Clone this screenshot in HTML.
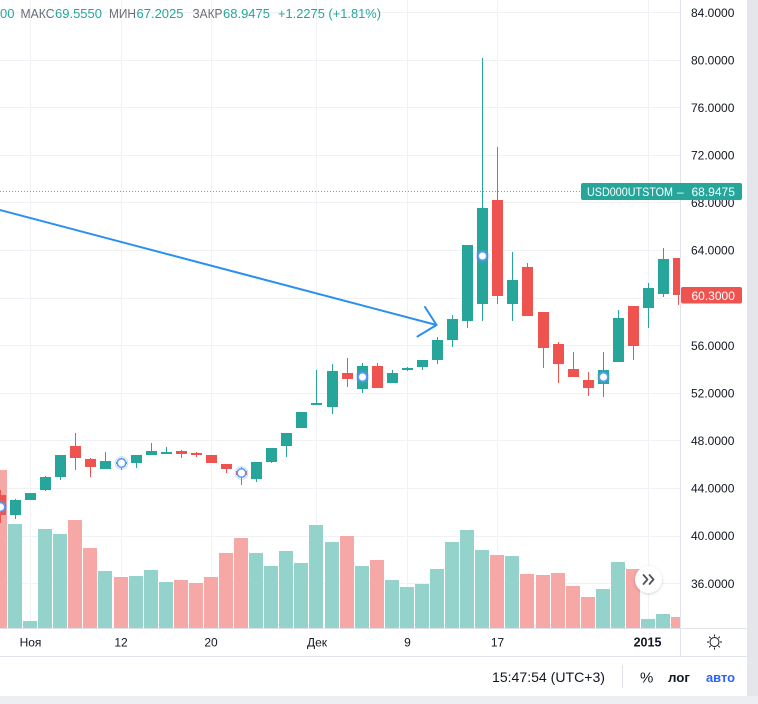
<!DOCTYPE html>
<html><head><meta charset="utf-8">
<style>
html,body{margin:0;padding:0;background:#eceef2;}
svg{display:block;}
text{font-family:"Liberation Sans",Arial,sans-serif;}
</style></head>
<body>
<svg width="758" height="704" viewBox="0 0 758 704" xmlns="http://www.w3.org/2000/svg">
<defs>
<clipPath id="pane"><rect x="0" y="0" width="680" height="628"/></clipPath>
<filter id="sh" x="-50%" y="-50%" width="200%" height="200%"><feDropShadow dx="0" dy="1" stdDeviation="1.5" flood-color="#000" flood-opacity="0.18"/></filter>
</defs>
<rect x="0" y="0" width="758" height="704" fill="#eceef2"/>
<rect x="0" y="0" width="747" height="696" fill="#ffffff" rx="0"/>

<!-- grid -->
<g stroke="#f0f2f6" stroke-width="1">
<line x1="0" y1="12.5" x2="680" y2="12.5"/>
<line x1="0" y1="60.5" x2="680" y2="60.5"/>
<line x1="0" y1="107.5" x2="680" y2="107.5"/>
<line x1="0" y1="155.5" x2="680" y2="155.5"/>
<line x1="0" y1="202.5" x2="680" y2="202.5"/>
<line x1="0" y1="250.5" x2="680" y2="250.5"/>
<line x1="0" y1="298.5" x2="680" y2="298.5"/>
<line x1="0" y1="345.5" x2="680" y2="345.5"/>
<line x1="0" y1="393.5" x2="680" y2="393.5"/>
<line x1="0" y1="440.5" x2="680" y2="440.5"/>
<line x1="0" y1="488.5" x2="680" y2="488.5"/>
<line x1="0" y1="536.5" x2="680" y2="536.5"/>
<line x1="0" y1="583.5" x2="680" y2="583.5"/>
<line x1="30.5" y1="0" x2="30.5" y2="628"/>
<line x1="121.5" y1="0" x2="121.5" y2="628"/>
<line x1="211.5" y1="0" x2="211.5" y2="628"/>
<line x1="316.5" y1="0" x2="316.5" y2="628"/>
<line x1="407.5" y1="0" x2="407.5" y2="628"/>
<line x1="497.5" y1="0" x2="497.5" y2="628"/>
<line x1="648.5" y1="0" x2="648.5" y2="628"/>
</g>

<g clip-path="url(#pane)">
<!-- volume -->
<g>
<rect x="-7" y="470" width="14" height="158" fill="#f6a8a6"/>
<rect x="8" y="524" width="14" height="104" fill="#93d3cc"/>
<rect x="23" y="621" width="14" height="7" fill="#93d3cc"/>
<rect x="38" y="529" width="14" height="99" fill="#93d3cc"/>
<rect x="53" y="534" width="14" height="94" fill="#93d3cc"/>
<rect x="68" y="520" width="14" height="108" fill="#f6a8a6"/>
<rect x="83" y="548" width="14" height="80" fill="#f6a8a6"/>
<rect x="98" y="571" width="14" height="57" fill="#93d3cc"/>
<rect x="114" y="577" width="14" height="51" fill="#f6a8a6"/>
<rect x="129" y="576" width="14" height="52" fill="#93d3cc"/>
<rect x="144" y="570" width="14" height="58" fill="#93d3cc"/>
<rect x="159" y="582" width="14" height="46" fill="#93d3cc"/>
<rect x="174" y="580" width="14" height="48" fill="#f6a8a6"/>
<rect x="189" y="583" width="14" height="45" fill="#f6a8a6"/>
<rect x="204" y="577" width="14" height="51" fill="#f6a8a6"/>
<rect x="219" y="553" width="14" height="75" fill="#f6a8a6"/>
<rect x="234" y="538" width="14" height="90" fill="#f6a8a6"/>
<rect x="249" y="553" width="14" height="75" fill="#93d3cc"/>
<rect x="264" y="566" width="14" height="62" fill="#93d3cc"/>
<rect x="279" y="551" width="14" height="77" fill="#93d3cc"/>
<rect x="294" y="563" width="14" height="65" fill="#93d3cc"/>
<rect x="309" y="525" width="14" height="103" fill="#93d3cc"/>
<rect x="325" y="542" width="14" height="86" fill="#93d3cc"/>
<rect x="340" y="536" width="14" height="92" fill="#f6a8a6"/>
<rect x="355" y="566" width="14" height="62" fill="#93d3cc"/>
<rect x="370" y="560" width="14" height="68" fill="#f6a8a6"/>
<rect x="385" y="580" width="14" height="48" fill="#93d3cc"/>
<rect x="400" y="587" width="14" height="41" fill="#93d3cc"/>
<rect x="415" y="584" width="14" height="44" fill="#93d3cc"/>
<rect x="430" y="569" width="14" height="59" fill="#93d3cc"/>
<rect x="445" y="542" width="14" height="86" fill="#93d3cc"/>
<rect x="460" y="530" width="14" height="98" fill="#93d3cc"/>
<rect x="475" y="550" width="14" height="78" fill="#93d3cc"/>
<rect x="490" y="555" width="14" height="73" fill="#f6a8a6"/>
<rect x="505" y="556" width="14" height="72" fill="#93d3cc"/>
<rect x="520" y="574" width="14" height="54" fill="#f6a8a6"/>
<rect x="536" y="575" width="14" height="53" fill="#f6a8a6"/>
<rect x="551" y="573" width="14" height="55" fill="#f6a8a6"/>
<rect x="566" y="586" width="14" height="42" fill="#f6a8a6"/>
<rect x="581" y="597" width="14" height="31" fill="#f6a8a6"/>
<rect x="596" y="589" width="14" height="39" fill="#93d3cc"/>
<rect x="611" y="562" width="14" height="66" fill="#93d3cc"/>
<rect x="626" y="569" width="14" height="59" fill="#f6a8a6"/>
<rect x="641" y="619" width="14" height="9" fill="#93d3cc"/>
<rect x="656" y="614" width="14" height="14" fill="#93d3cc"/>
<rect x="671" y="617" width="14" height="11" fill="#f6a8a6"/>
</g>

<!-- price line -->
<line x1="0" y1="191.5" x2="680" y2="191.5" stroke="#26a69a" stroke-width="1" stroke-dasharray="1 2" opacity="0.8"/>

<!-- candles -->
<g fill="#ef5350">
<rect x="0" y="490" width="1" height="33"/><rect x="-5" y="495" width="11" height="20"/>
<rect x="75" y="433" width="1" height="37"/><rect x="70" y="446" width="11" height="12"/>
<rect x="90" y="458" width="1" height="19"/><rect x="85" y="459" width="11" height="8"/>
<rect x="181" y="450" width="1" height="8"/><rect x="176" y="451" width="11" height="3"/>
<rect x="196" y="452" width="1" height="5"/><rect x="191" y="453" width="11" height="2"/>
<rect x="211" y="455" width="1" height="8"/><rect x="206" y="455" width="11" height="8"/>
<rect x="226" y="464" width="1" height="9"/><rect x="221" y="464" width="11" height="5"/>
<rect x="241" y="467" width="1" height="18"/><rect x="236" y="471" width="11" height="4"/>
<rect x="347" y="358" width="1" height="29"/><rect x="342" y="373" width="11" height="6"/>
<rect x="377" y="363" width="1" height="25"/><rect x="372" y="366" width="11" height="22"/>
<rect x="497" y="147" width="1" height="157"/><rect x="492" y="200" width="11" height="96"/>
<rect x="527" y="263" width="1" height="53"/><rect x="522" y="267" width="11" height="49"/>
<rect x="543" y="312" width="1" height="56"/><rect x="538" y="312" width="11" height="36"/>
<rect x="558" y="342" width="1" height="41"/><rect x="553" y="344" width="11" height="20"/>
<rect x="573" y="352" width="1" height="25"/><rect x="568" y="369" width="11" height="8"/>
<rect x="588" y="372" width="1" height="24"/><rect x="583" y="380" width="11" height="8"/>
<rect x="633" y="306" width="1" height="54"/><rect x="628" y="306" width="11" height="40"/>
<rect x="678" y="258" width="1" height="47"/><rect x="673" y="258" width="11" height="37"/>
</g>
<g fill="#26a69a">
<rect x="15" y="499" width="1" height="20"/><rect x="10" y="500" width="11" height="15"/>
<rect x="30" y="493" width="1" height="7"/><rect x="25" y="493" width="11" height="7"/>
<rect x="45" y="476" width="1" height="15"/><rect x="40" y="477" width="11" height="13"/>
<rect x="60" y="455" width="1" height="25"/><rect x="55" y="455" width="11" height="22"/>
<rect x="105" y="452" width="1" height="17"/><rect x="100" y="461" width="11" height="8"/>
<rect x="121" y="461" width="1" height="9"/><rect x="116" y="462" width="11" height="2"/>
<rect x="136" y="455" width="1" height="13"/><rect x="131" y="455" width="11" height="8"/>
<rect x="151" y="443" width="1" height="12"/><rect x="146" y="451" width="11" height="4"/>
<rect x="166" y="447" width="1" height="7"/><rect x="161" y="452" width="11" height="2"/>
<rect x="256" y="462" width="1" height="20"/><rect x="251" y="462" width="11" height="17"/>
<rect x="271" y="448" width="1" height="15"/><rect x="266" y="448" width="11" height="14"/>
<rect x="286" y="433" width="1" height="24"/><rect x="281" y="433" width="11" height="13"/>
<rect x="301" y="412" width="1" height="16"/><rect x="296" y="412" width="11" height="16"/>
<rect x="316" y="370" width="1" height="35"/><rect x="311" y="403" width="11" height="2"/>
<rect x="332" y="364" width="1" height="50"/><rect x="327" y="371" width="11" height="36"/>
<rect x="362" y="363" width="1" height="30"/><rect x="357" y="366" width="11" height="23"/>
<rect x="392" y="370" width="1" height="13"/><rect x="387" y="373" width="11" height="10"/>
<rect x="407" y="367" width="1" height="4"/><rect x="402" y="368" width="11" height="2"/>
<rect x="422" y="360" width="1" height="10"/><rect x="417" y="360" width="11" height="7"/>
<rect x="437" y="337" width="1" height="27"/><rect x="432" y="340" width="11" height="20"/>
<rect x="452" y="315" width="1" height="32"/><rect x="447" y="319" width="11" height="21"/>
<rect x="467" y="245" width="1" height="83"/><rect x="462" y="245" width="11" height="76"/>
<rect x="482" y="58" width="1" height="263"/><rect x="477" y="208" width="11" height="96"/>
<rect x="512" y="252" width="1" height="69"/><rect x="507" y="280" width="11" height="24"/>
<rect x="603" y="352" width="1" height="45"/><rect x="598" y="370" width="11" height="14"/>
<rect x="618" y="310" width="1" height="52"/><rect x="613" y="318" width="11" height="44"/>
<rect x="648" y="283" width="1" height="45"/><rect x="643" y="288" width="11" height="20"/>
<rect x="663" y="248" width="1" height="49"/><rect x="658" y="259" width="11" height="35"/>
</g>

<!-- event markers -->
<g fill="#ffffff" stroke="#5b9cf6" stroke-width="1.6">
<circle cx="0.5" cy="507" r="4.3"/>
<circle cx="121.5" cy="463" r="4.3"/>
<circle cx="241.5" cy="473" r="4.3"/>
<circle cx="362.5" cy="377" r="4.3"/>
<circle cx="482.5" cy="256" r="4.3"/>
<circle cx="603.5" cy="377" r="4.3"/>
</g>
<g fill="none" stroke="#5b9cf6" stroke-width="1" opacity="0.35">
<circle cx="0.5" cy="507" r="6.3"/>
<circle cx="121.5" cy="463" r="6.3"/>
<circle cx="241.5" cy="473" r="6.3"/>
<circle cx="362.5" cy="377" r="6.3"/>
<circle cx="482.5" cy="256" r="6.3"/>
<circle cx="603.5" cy="377" r="6.3"/>
</g>

<!-- arrow -->
<g stroke="#2b8ff0" stroke-width="2" fill="none" stroke-linecap="round" stroke-linejoin="round">
<line x1="-2" y1="209.5" x2="436.5" y2="325"/>
<polyline points="425,307 436.5,325 417.5,336.5"/>
</g>
</g>

<!-- header legend -->
<g font-size="13">
<text x="0" y="18" fill="#26a69a">00</text>
<text x="20.5" y="18" fill="#6a6d78" textLength="34" lengthAdjust="spacingAndGlyphs">МАКС</text>
<text x="55" y="18" fill="#26a69a">69.5550</text>
<text x="109" y="18" fill="#6a6d78" textLength="27" lengthAdjust="spacingAndGlyphs">МИН</text>
<text x="136.5" y="18" fill="#26a69a">67.2025</text>
<text x="192.5" y="18" fill="#6a6d78" textLength="30" lengthAdjust="spacingAndGlyphs">ЗАКР</text>
<text x="223" y="18" fill="#26a69a">68.9475</text>
<text x="278" y="18" fill="#26a69a" textLength="103" lengthAdjust="spacingAndGlyphs">+1.2275 (+1.81%)</text>
</g>

<!-- axes lines -->
<g stroke="#e0e3eb" stroke-width="1">
<line x1="680.5" y1="0" x2="680.5" y2="656"/>
<line x1="0" y1="628.5" x2="747" y2="628.5"/>
<line x1="0" y1="656.5" x2="747" y2="656.5"/>
<line x1="622.5" y1="665" x2="622.5" y2="688"/>
</g>

<!-- price labels -->
<g font-size="12" fill="#131722">
<text x="691" y="17">84.0000</text>
<text x="691" y="64.5">80.0000</text>
<text x="691" y="112">76.0000</text>
<text x="691" y="159.5">72.0000</text>
<text x="691" y="207">68.0000</text>
<text x="691" y="254.5">64.0000</text>
<text x="691" y="302">60.0000</text>
<text x="691" y="350">56.0000</text>
<text x="691" y="397.5">52.0000</text>
<text x="691" y="445">48.0000</text>
<text x="691" y="492.5">44.0000</text>
<text x="691" y="540">40.0000</text>
<text x="691" y="588">36.0000</text>
</g>

<!-- last price label -->
<rect x="581" y="183" width="161" height="17" rx="2" fill="#26a69a"/>
<text x="587" y="196" font-size="12" fill="#ffffff" textLength="86" lengthAdjust="spacingAndGlyphs">USD000UTSTOM</text>
<text x="677" y="196" font-size="12" fill="#ffffff">–</text>
<text x="691.5" y="196" font-size="12" fill="#ffffff">68.9475</text>

<rect x="681" y="287" width="61" height="16.5" rx="2" fill="#ef5350"/>
<text x="691.5" y="300" font-size="12" fill="#ffffff">60.3000</text>

<!-- scroll button -->
<circle cx="648.5" cy="579.5" r="13.5" fill="#ffffff" filter="url(#sh)"/>
<g stroke="#50535e" stroke-width="1.8" fill="none" stroke-linecap="round" stroke-linejoin="round">
<polyline points="643.5,575 647.5,579.5 643.5,584"/>
<polyline points="649.5,575 653.5,579.5 649.5,584"/>
</g>

<!-- time labels -->
<g font-size="12" fill="#131722" text-anchor="middle">
<text x="30.5" y="646.5">Ноя</text>
<text x="121" y="646.5">12</text>
<text x="211" y="646.5">20</text>
<text x="317" y="646.5">Дек</text>
<text x="407.5" y="646.5">9</text>
<text x="497.5" y="646.5">17</text>
<text x="647.5" y="646.5" font-weight="bold" font-size="12.5">2015</text>
</g>

<!-- sun icon -->
<g transform="translate(714.5,642)" stroke="#131722" stroke-width="1" fill="none">
<circle r="4.5"/>
<line x1="0" y1="-5.5" x2="0" y2="-7.5"/>
<line x1="0" y1="5.5" x2="0" y2="7.5"/>
<line x1="-5.5" y1="0" x2="-7.5" y2="0"/>
<line x1="5.5" y1="0" x2="7.5" y2="0"/>
<line x1="3.9" y1="-3.9" x2="5.3" y2="-5.3"/>
<line x1="-3.9" y1="-3.9" x2="-5.3" y2="-5.3"/>
<line x1="3.9" y1="3.9" x2="5.3" y2="5.3"/>
<line x1="-3.9" y1="3.9" x2="-5.3" y2="5.3"/>
</g>

<!-- bottom toolbar -->
<text x="492" y="682" font-size="14" fill="#131722" textLength="113" lengthAdjust="spacingAndGlyphs">15:47:54 (UTC+3)</text>
<text x="640" y="682.5" font-size="15" fill="#131722">%</text>
<text x="668" y="682" font-size="13" fill="#131722" font-weight="bold" textLength="22" lengthAdjust="spacingAndGlyphs">лог</text>
<text x="706" y="682" font-size="13" fill="#2962ff" font-weight="bold" textLength="29" lengthAdjust="spacingAndGlyphs">авто</text>

<!-- outer edges -->
<rect x="747" y="0" width="11" height="704" fill="#e4e6ec"/>
<rect x="0" y="696" width="758" height="8" fill="#eceef2"/>
</svg>
</body></html>
